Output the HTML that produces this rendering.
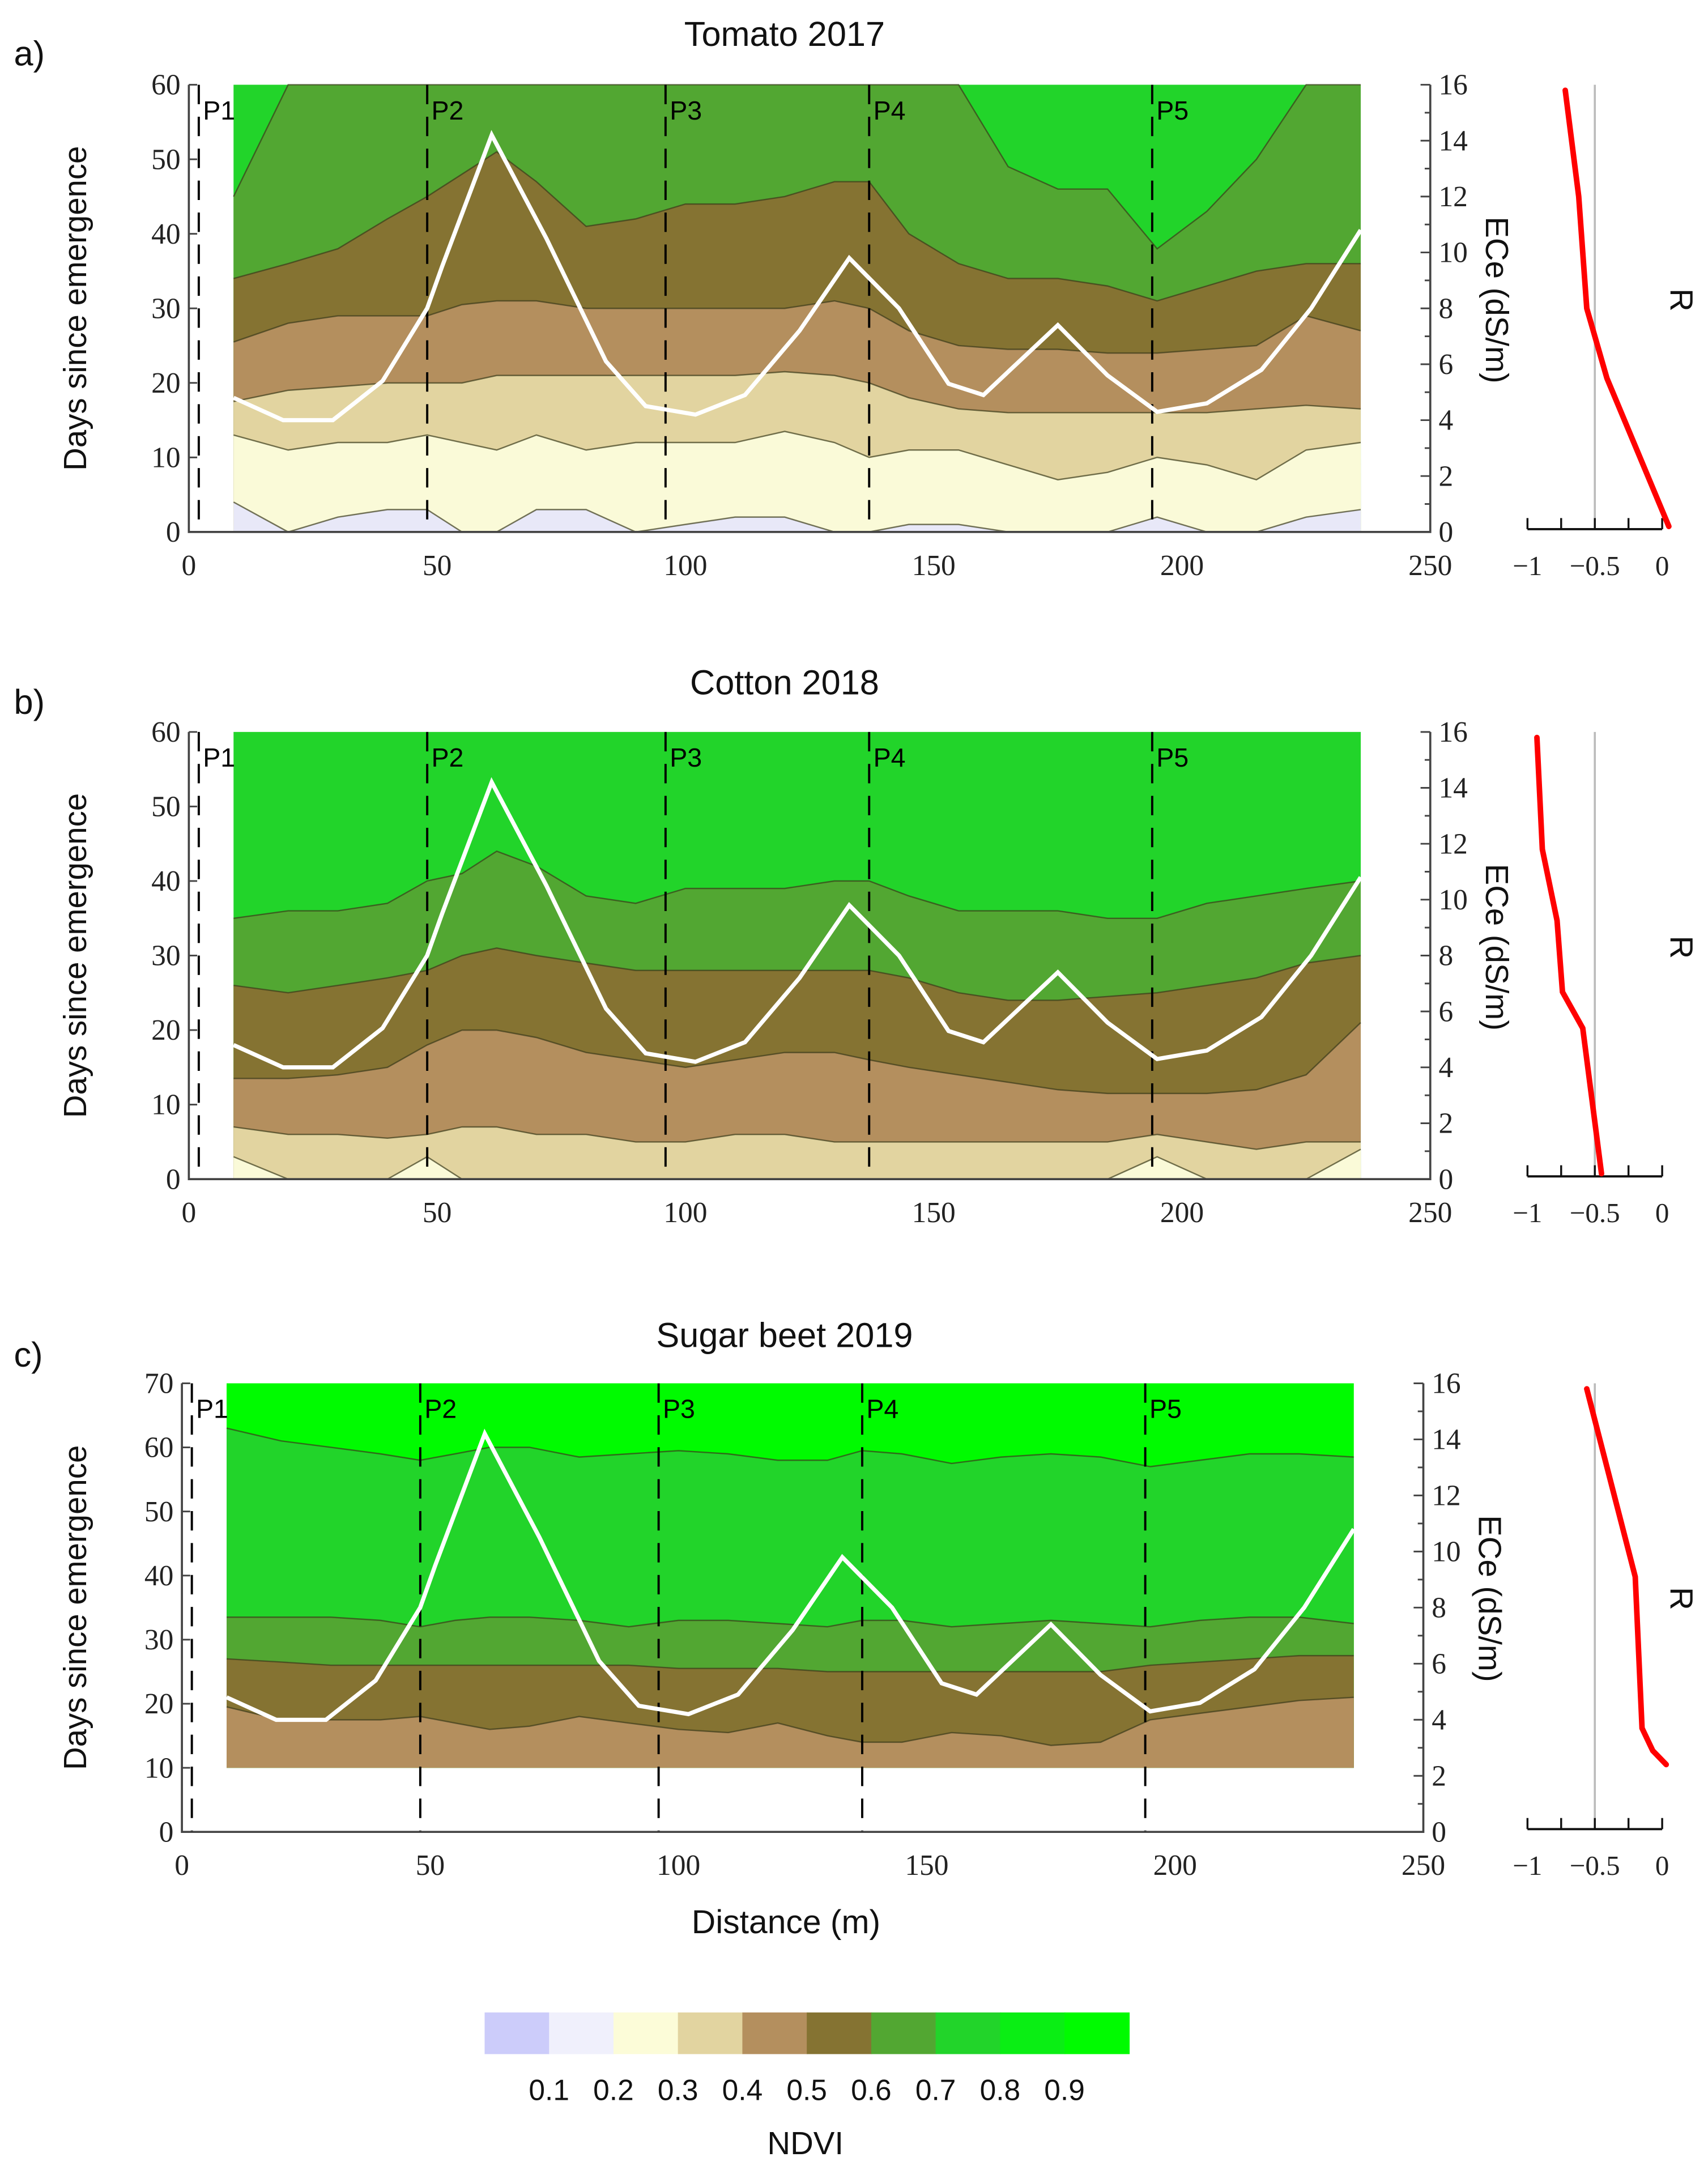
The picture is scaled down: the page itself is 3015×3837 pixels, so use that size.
<!DOCTYPE html>
<html><head><meta charset="utf-8"><style>
html,body{margin:0;padding:0;background:#fff;}
svg{display:block;}
.sans{font-family:"Liberation Sans",sans-serif;}
.serif{font-family:"Liberation Serif",serif;}
</style></head><body>
<svg id="fig" width="3015" height="3837" viewBox="0 0 1230 1565.3" xmlns="http://www.w3.org/2000/svg"></svg>
<script>
// ---- data ----
const gridDist = [9,20,30,40,48,55,62,70,80,90,100,110,120,130,137,145,155,165,175,185,195,205,215,225,236];
const a_b7 = [45,60,60,60,60,60,60,60,60,60,60,60,60,60,60,60,60,49,46,46,38,43,50,60,60];
const a_b6 = [34,36,38,42,45,48,51,47,41,42,44,44,45,47,47,40,36,34,34,33,31,33,35,36,36];
const a_b5 = [25.5,28,29,29,29,30.5,31,31,30,30,30,30,30,31,30,27,25,24.5,24.5,24,24,24.5,25,29,27];
const a_b4 = [17.5,19,19.5,20,20,20,21,21,21,21,21,21,21.5,21,20,18,16.5,16,16,16,16,16,16.5,17,16.5];
const a_b3 = [13,11,12,12,13,12,11,13,11,12,12,12,13.5,12,10,11,11,9,7,8,10,9,7,11,12];
const a_b2 = [4,0,2,3,3,0,0,3,3,0,1,2,2,0,0,1,1,0,0,0,2,0,0,2,3];
const b_b6 = [35,36,36,37,40,41,44,42,38,37,39,39,39,40,40,38,36,36,36,35,35,37,38,39,40];
const b_b5 = [26,25,26,27,28,30,31,30,29,28,28,28,28,28,28,27,25,24,24,24.5,25,26,27,29,30];
const b_b4 = [13.5,13.5,14,15,18,20,20,19,17,16,15,16,17,17,16,15,14,13,12,11.5,11.5,11.5,12,14,21];
const b_b3 = [7,6,6,5.5,6,7,7,6,6,5,5,6,6,5,5,5,5,5,5,5,6,5,4,5,5];
const b_b2 = [3,0,0,0,3,0,0,0,0,0,0,0,0,0,0,0,0,0,0,0,3,0,0,0,4];
const c_b8 = [63,61,60,59,58,59,60,60,58.5,59,59.5,59,58,58,59.5,59,57.5,58.5,59,58.5,57,58,59,59,58.5];
const c_b7 = [33.5,33.5,33.5,33,32,33,33.5,33.5,33,32,33,33,32.5,32,33,33,32,32.5,33,32.5,32,33,33.5,33.5,32.5];
const c_b6 = [27,26.5,26,26,26,26,26,26,26,26,25.5,25.5,25.5,25,25,25,25,25,25,25,26,26.5,27,27.5,27.5];
const c_b5 = [19.5,17.5,17.5,17.5,18,17,16,16.5,18,17,16,15.5,17,15,14,14,15.5,15,13.5,14,17.5,18.5,19.5,20.5,21];
const eceDist = [9,19,29,39,48,51,61,72,84,92,102,112,123,133,143,153,160,175,185,195,205,216,226,236];
const eceVal = [4.8,4,4,5.4,8,9.5,14.2,10.5,6.1,4.5,4.2,4.9,7.2,9.8,8,5.3,4.9,7.4,5.6,4.3,4.6,5.8,8,10.8];
const a_rEce = [15.8,12,8,7,5.5,0.2];
const a_rVal = [-0.72,-0.62,-0.56,-0.5,-0.41,0.05];
const b_rEce = [15.8,11.8,9.25,6.7,5.4,0.2];
const b_rVal = [-0.93,-0.89,-0.78,-0.74,-0.59,-0.45];
const c_rEce = [15.8,9.1,3.7,2.9,2.4];
const c_rVal = [-0.56,-0.2,-0.15,-0.07,0.03];
const pDist = [2,48,96,137,194];
const pNames = ["P1","P2","P3","P4","P5"];
const xTicks = [0,50,100,150,200,250];
const eceTicks = [0,2,4,6,8,10,12,14,16];
const legendLabels = ["0.1","0.2","0.3","0.4","0.5","0.6","0.7","0.8","0.9"];
const legendColors = ["#ccccfa","#f0f0fc","#fcfcd8","#e2d4a0","#b48f5e","#857332","#52a732","#22d42a","#0aee14","#00fb00"];

const NS="http://www.w3.org/2000/svg";
const svg=document.getElementById('fig');
function mk(tag,attrs,parent,txt){const e=document.createElementNS(NS,tag);for(const k in attrs)e.setAttribute(k,attrs[k]);if(txt!==undefined)e.textContent=txt;(parent||svg).appendChild(e);return e;}

const panels=[
 {id:'a',title:'Tomato 2017',x0:136,x1:1030,yb:383,yt:61,ymax:60,ystep:10,dBottom:0,top:'#22d42a',
  bands:[[a_b7,'#52a732'],[a_b6,'#857332'],[a_b5,'#b48f5e'],[a_b4,'#e2d4a0'],[a_b3,'#fafad8'],[a_b2,'#e8e8f8']],rE:a_rEce,rV:a_rVal,ty:33},
 {id:'b',title:'Cotton 2018',x0:136,x1:1030,yb:849,yt:527,ymax:60,ystep:10,dBottom:0,top:'#22d42a',
  bands:[[b_b6,'#52a732'],[b_b5,'#857332'],[b_b4,'#b48f5e'],[b_b3,'#e2d4a0'],[b_b2,'#fafad8']],rE:b_rEce,rV:b_rVal,ty:500},
 {id:'c',title:'Sugar beet 2019',x0:131,x1:1025,yb:1319,yt:996,ymax:70,ystep:10,dBottom:10,top:'#00fb00',
  bands:[[c_b8,'#22d42a'],[c_b7,'#52a732'],[c_b6,'#857332'],[c_b5,'#b48f5e']],rE:c_rEce,rV:c_rVal,ty:970}
];

panels.forEach(p=>{
  const g=mk('g',{});
  
  
  const X=d=>p.x0+d*(p.x1-p.x0)/250;
  const Y=v=>p.yb-v*(p.yb-p.yt)/p.ymax;
  const YE=v=>p.yb-v*(p.yb-p.yt)/16;
  const RX=r=>1197+r*97;
  // top band rect
  const r0=mk('rect',{x:X(gridDist[0]),y:Y(p.ymax),width:X(gridDist[gridDist.length-1])-X(gridDist[0]),height:Y(p.dBottom)-Y(p.ymax),fill:p.top},g);
  
  
  p.bands.forEach((b,i)=>{
    const vals=b[0];
    let pts=gridDist.map((d,k)=>X(d).toFixed(1)+','+Y(vals[k]).toFixed(1));
    const poly=mk('polygon',{points:pts.join(' ')+' '+X(gridDist[gridDist.length-1])+','+Y(p.dBottom)+' '+X(gridDist[0])+','+Y(p.dBottom),fill:b[1]},g);
    
    
    const ln=mk('polyline',{points:pts.join(' '),fill:'none',stroke:'#3a3a1a','stroke-opacity':0.7,'stroke-width':1},g);
    
    
  });
  // P lines
  pDist.forEach((d,i)=>{
    const l=mk('line',{x1:X(d),x2:X(d),y1:Y(p.ymax),y2:p.yb,stroke:'#000','stroke-width':1.6,'stroke-dasharray':'14,9'},g);
    
    
    const t=mk('text',{x:X(d)+3,y:p.yt+25,'font-size':19,class:'sans'},g,pNames[i]);
    
    
  });
  // ECe white line
  const ep=eceDist.map((d,k)=>X(d).toFixed(1)+','+YE(eceVal[k]).toFixed(1)).join(' ');
  const el=mk('polyline',{points:ep,fill:'none',stroke:'#fff','stroke-width':3,'stroke-linejoin':'miter'},g);
  
  
  // axes
  const ax=mk('path',{d:`M${p.x0},${p.yt} V${p.yb} H${p.x1} V${p.yt}`,fill:'none',stroke:'#444','stroke-width':1.5},g);
  
  
  for(let v=0;v<=p.ymax;v+=p.ystep){
    mk('line',{x1:p.x0,x2:p.x0+6,y1:Y(v),y2:Y(v),stroke:'#444','stroke-width':1.2},g);
    const t=mk('text',{x:p.x0-6,y:Y(v)+7,'font-size':21,'text-anchor':'end',class:'serif',fill:'#222'},g,String(v));
    
    
  }
  xTicks.forEach(v=>{
    const t=mk('text',{x:X(v),y:p.yb+31,'font-size':21,'text-anchor':'middle',class:'serif',fill:'#222'},g,String(v));
    
    
  });
  for(let v=0;v<=16;v++){
    mk('line',{x1:p.x1,x2:p.x1-(v%2?4:7),y1:YE(v),y2:YE(v),stroke:'#444','stroke-width':1.2},g);
  }
  eceTicks.forEach(v=>{
    const t=mk('text',{x:p.x1+6,y:YE(v)+7,'font-size':21,class:'serif',fill:'#222'},g,String(v));
    
    
  });
  const yc=(p.yt+p.yb)/2;
  const yt=mk('text',{x:0,y:0,transform:`translate(62,${yc}) rotate(-90)`,'font-size':23,'text-anchor':'middle',class:'sans',fill:'#111'},g,'Days since emergence');
  
  
  const et=mk('text',{x:0,y:0,transform:`translate(${p.x1+40},${p.yt+155}) rotate(90)`,'font-size':23,'text-anchor':'middle',class:'sans',fill:'#111'},g,'ECe (dS/m)');
  
  
  const tt=mk('text',{x:565,y:p.ty,'font-size':25,'text-anchor':'middle',class:'sans',fill:'#111'},g,p.title);
  
  
  const pl=mk('text',{x:10,y:p.ty+14,'font-size':25,class:'sans',fill:'#111'},g,p.id+')');
  
  
  // R subplot
  const ry=p.yb-2;
  const gl=mk('line',{x1:RX(-0.5),x2:RX(-0.5),y1:p.yt,y2:ry,stroke:'#bbb','stroke-width':1.5},g);
  
  
  const ra=mk('line',{x1:RX(-1),x2:RX(0),y1:ry,y2:ry,stroke:'#111','stroke-width':1.6},g);
  
  
  [-1,-0.75,-0.5,-0.25,0].forEach(v=>mk('line',{x1:RX(v),x2:RX(v),y1:ry,y2:ry-8,stroke:'#111','stroke-width':1.4},g));
  [[-1,'\u22121'],[-0.5,'\u22120.5'],[0,'0']].forEach(a=>{
    const t=mk('text',{x:RX(a[0]),y:ry+33,'font-size':20,'text-anchor':'middle',class:'serif',fill:'#222'},g,a[1]);
    
    
  });
  const rp=p.rE.map((e,k)=>RX(p.rV[k]).toFixed(1)+','+YE(e).toFixed(1)).join(' ');
  const rl=mk('polyline',{points:rp,fill:'none',stroke:'#ff0000','stroke-width':4,'stroke-linecap':'round'},g);
  
  
  const rt=mk('text',{x:0,y:0,transform:`translate(1203,${p.yt+155}) rotate(90)`,'font-size':23,'text-anchor':'middle',class:'sans',fill:'#111'},g,'R');
  
  
});

const xt=mk('text',{x:566,y:1392,'font-size':24,'text-anchor':'middle',class:'sans',fill:'#111'},svg,'Distance (m)');


const lg=mk('g',{});


const cw=(813-349)/legendColors.length;
legendColors.forEach((c,i)=>{
  const r=mk('rect',{x:349+i*cw,y:1449,width:cw+0.5,height:30,fill:c},lg);
  
  
});
legendLabels.forEach((l,i)=>{
  const t=mk('text',{x:349+(i+1)*cw,y:1512,'font-size':21,'text-anchor':'middle',class:'sans',fill:'#111'},lg,l);
  
  
});
const nd=mk('text',{x:580,y:1551,'font-size':23,'text-anchor':'middle',class:'sans',fill:'#111'},svg,'NDVI');


</script>
</body></html>
